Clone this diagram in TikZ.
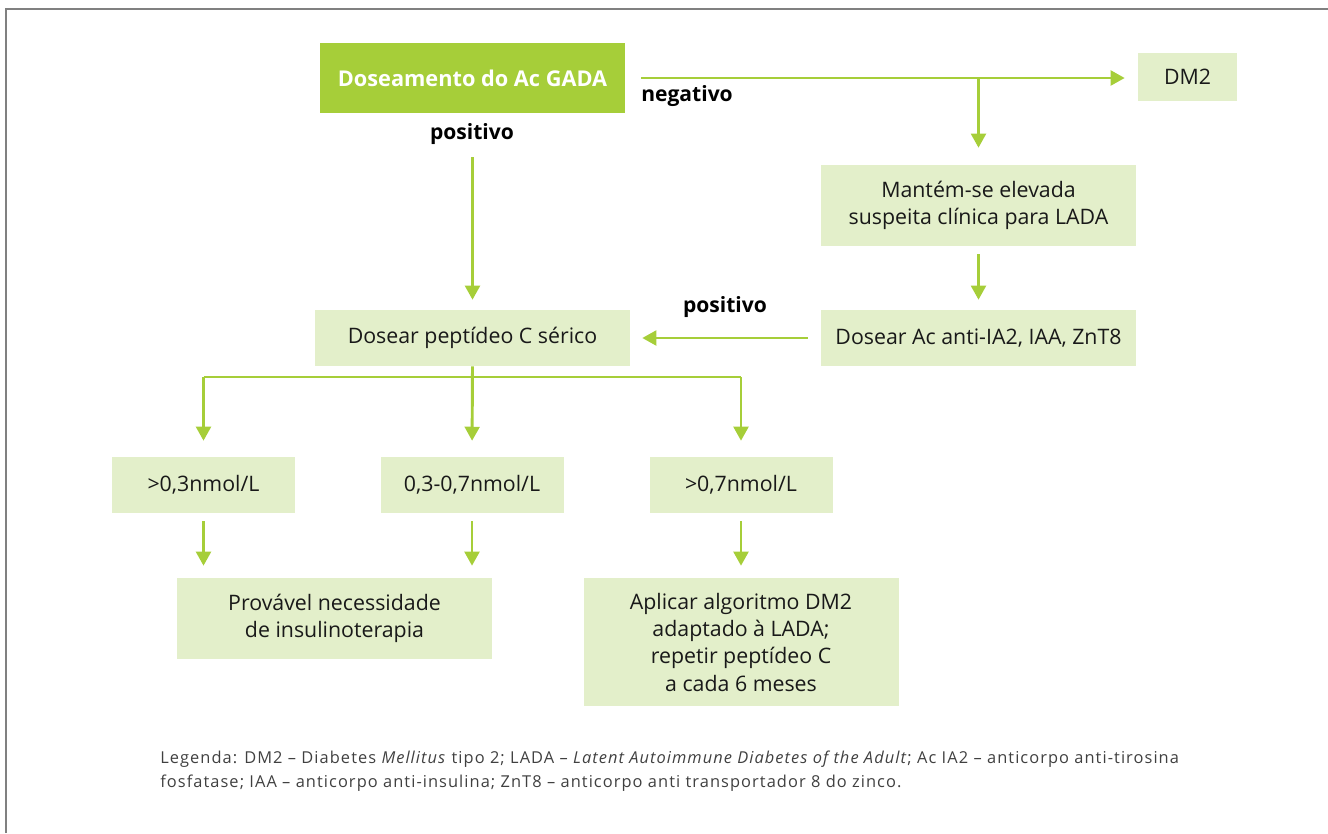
\documentclass[tikz,border=0pt]{standalone}
\usepackage{fontspec}
\setmainfont{Open Sans}
\usepackage{tikz}
\usetikzlibrary{arrows.meta}

\definecolor{gadagreen}{HTML}{A6CE39}
\definecolor{boxgreen}{HTML}{E3EFCA}
\definecolor{framegray}{HTML}{808080}
\definecolor{legendgray}{HTML}{404040}

\tikzset{
  box/.style={fill=boxgreen, align=center, inner sep=0pt, text=black!90,
    font=\fontsize{16}{20.5}\selectfont},
  mainbox/.style={box, fill=gadagreen, text=white,
    font=\bfseries\fontsize{16.3}{20}\selectfont},
  answer/.style={inner sep=0pt, font=\bfseries\fontsize{15.8}{18}\selectfont},
  flow/.style={draw=gadagreen, line width=2.2pt}
}

\begin{document}
\begin{tikzpicture}[x=0.75pt,y=-0.75pt,>={Triangle[length=10.5pt,width=11pt]}]
  \useasboundingbox (0,0) rectangle (1328,833);
  \draw[framegray, line width=1.5pt] (6,833) -- (6,9) -- (1328,9);

  \node[mainbox, minimum width=228.75pt, minimum height=52.5pt] (gada) at (472.5,78) {Doseamento do Ac GADA};
  \node[box, minimum width=74.25pt, minimum height=36pt] (dm2) at (1187.5,77) {DM2};
  \node[box, minimum width=236.25pt, minimum height=60.75pt] (mantem) at (978.5,205.5) {Mantém-se elevada\\suspeita clínica para LADA};
  \node[box, minimum width=236.25pt, minimum height=42pt] (pept) at (472.5,338) {Dosear peptídeo C sérico};
  \node[box, minimum width=236.25pt, minimum height=42pt] (anti) at (978.5,338) {Dosear Ac anti-IA2, IAA, ZnT8};

  \node[box, minimum width=137.25pt, minimum height=42pt] (low) at (203.5,485) {>0,3nmol/L};
  \node[box, minimum width=137.25pt, minimum height=42pt] (mid) at (472,485) {0,3-0,7nmol/L};
  \node[box, minimum width=137.25pt, minimum height=42pt] (high) at (741,485) {>0,7nmol/L};

  \node[box, minimum width=236.25pt, minimum height=60.75pt] (insulin) at (334.5,618.5) {Provável necessidade\\de insulinoterapia};
  \node[box, minimum width=236.25pt, minimum height=96pt] (algo) at (741,642) {Aplicar algoritmo DM2\\adaptado à LADA;\\repetir peptídeo C\\a cada 6 meses};

  \node[answer, anchor=west] (neg) at (641,96) {negativo};
  \node[answer] (pos) at (472,134) {positivo};
  \node[answer] (posanti) at (725,307) {positivo};

  \coordinate (split) at (mantem.north |- gada.east);
  \coordinate (bar) at (472,377);

  \draw[flow,->,shorten <=12pt,shorten >=9.75pt] (gada.east) -- (gada.east -| dm2.west);
  \draw[flow,->,shorten >=12.75pt] (split) -- (mantem.north);
  \draw[flow,->,shorten <=6pt,shorten >=7.5pt] (mantem.south) -- (anti.north);
  \draw[flow,->,shorten <=33pt,shorten >=7.5pt] (gada.south) -- (pept.north);
  \draw[flow,->,shorten <=9.75pt,shorten >=9pt] (anti.west) -- (pept.east);

  \draw[flow,->,shorten >=12pt] (pept.south) -- (mid.north);
  \draw[flow] (bar -| low.north) -- (bar -| high.north);
  \draw[flow,->,shorten >=12pt] (bar -| low.north) -- (low.north);
  \draw[flow,->,shorten >=12pt] (bar -| high.north) -- (high.north);

  \draw[flow,->,shorten <=6pt,shorten >=9pt] (low.south) -- (low.south |- insulin.north);
  \draw[flow,->,shorten <=6pt,shorten >=9pt] (mid.south) -- (mid.south |- insulin.north);
  \draw[flow,->,shorten <=6pt,shorten >=9pt] (high.south) -- (algo.north);

  \node[anchor=north west, align=left, inner sep=0pt, text=legendgray,
    font=\fontsize{12.3}{18}\selectfont\addfontfeature{LetterSpace=6.5}] (legend) at (160,751)
    {Legenda: DM2 -- Diabetes \textit{Mellitus} tipo 2; LADA -- \textit{Latent Autoimmune Diabetes of the Adult}; Ac IA2 -- anticorpo anti-tirosina\\
     fosfatase; IAA -- anticorpo anti-insulina; ZnT8 -- anticorpo anti transportador 8 do zinco.};
\end{tikzpicture}
\end{document}
